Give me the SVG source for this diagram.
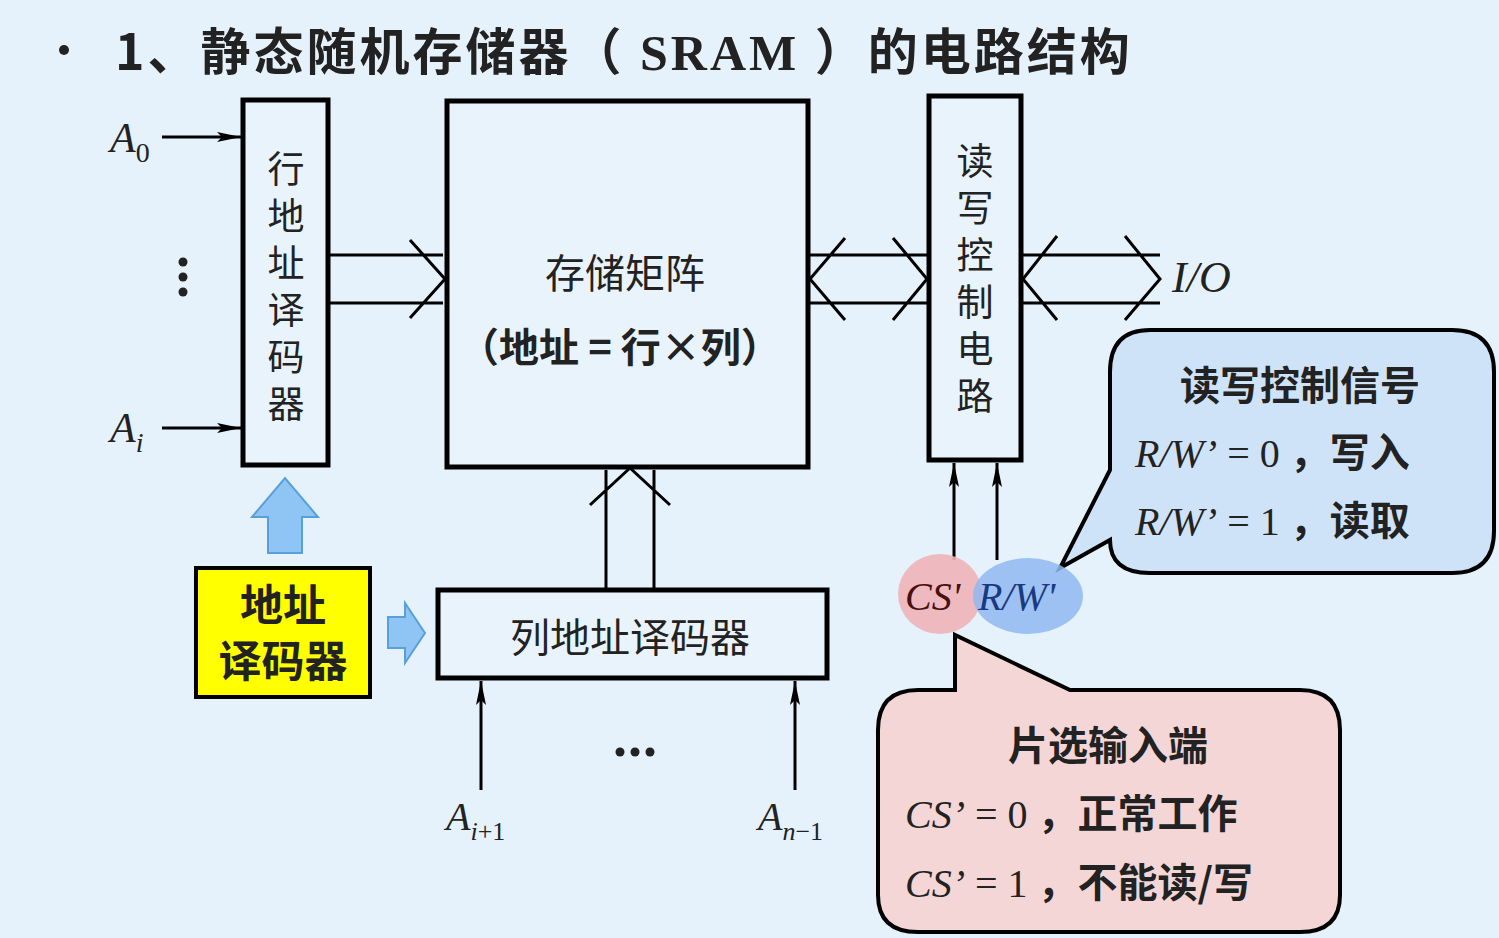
<svg xmlns="http://www.w3.org/2000/svg" width="1499" height="938" viewBox="0 0 1499 938">
<style>
.box{fill:#e8f3fb;stroke:#000;stroke-width:5}
.ln{fill:none;stroke:#000;stroke-width:3}
.cn{font-family:"Noto Sans CJK SC",sans-serif;fill:#222}
.it{font-family:"Liberation Serif",serif;font-style:italic;fill:#222}
.sr{font-family:"Liberation Serif",serif;fill:#222}
</style>
<defs><marker id="ah" viewBox="0 0 24 10" refX="24" refY="5" markerWidth="24" markerHeight="10" markerUnits="userSpaceOnUse" orient="auto"><path d="M0,0 L24,5 L0,10 L5,5 Z" fill="#000"/></marker></defs>
<rect width="1499" height="938" fill="#e6f2fb"/>
<circle cx="64" cy="50" r="5" fill="#222"/>
<text x="115" y="70" font-size="50" font-weight="bold" letter-spacing="3" class="cn">1、静态随机存储器（<tspan font-family="Liberation Serif"> SRAM </tspan>）的电路结构</text>
<g id="row-decoder"><rect class="box" x="243" y="100" width="85" height="365"/><text class="cn" font-size="37" text-anchor="middle"><tspan x="286" y="183">行</tspan><tspan x="286" y="230">地</tspan><tspan x="286" y="277">址</tspan><tspan x="286" y="324">译</tspan><tspan x="286" y="371">码</tspan><tspan x="286" y="418">器</tspan></text></g>
<g id="matrix"><rect class="box" x="447" y="101" width="361" height="366"/><text class="cn" font-size="40" x="625" y="288" text-anchor="middle">存储矩阵</text><text class="cn" font-size="40" font-weight="bold" x="620" y="362" text-anchor="middle">（地址 = 行×列）</text></g>
<g id="rw-control"><rect class="box" x="929" y="96" width="92" height="364"/><text class="cn" font-size="37" text-anchor="middle"><tspan x="975" y="175">读</tspan><tspan x="975" y="222">写</tspan><tspan x="975" y="269">控</tspan><tspan x="975" y="316">制</tspan><tspan x="975" y="363">电</tspan><tspan x="975" y="410">路</tspan></text></g>
<g id="col-decoder"><rect class="box" x="438" y="590" width="389" height="88"/><text class="cn" font-size="40" x="630" y="652" text-anchor="middle">列地址译码器</text></g>
<g id="addr-decoder"><rect x="196" y="568" width="174" height="129" fill="#ffff00" stroke="#000" stroke-width="4"/><text class="cn" font-size="43" font-weight="bold" text-anchor="middle"><tspan x="283" y="621">地址</tspan><tspan x="283" y="677">译码器</tspan></text></g>
<g id="connectors">
<path class="ln" marker-end="url(#ah)" d="M162,137 H241"/>
<path class="ln" marker-end="url(#ah)" d="M162,428 H241"/>
<path class="ln" marker-end="url(#ah)" d="M481,790 V681"/>
<path class="ln" marker-end="url(#ah)" d="M795,790 V681"/>
<path class="ln" marker-end="url(#ah)" d="M954,560 V463"/>
<path class="ln" marker-end="url(#ah)" d="M997,560 V463"/>
<path class="ln" d="M330,255 H443 M330,303 H443 M410,240 L445,279 L410,318"/>
<path class="ln" d="M810,255 H927 M810,303 H927 M845,238 L810,279 L845,320 M893,238 L927,279 L893,320"/>
<path class="ln" d="M1023,255 H1160 M1023,303 H1160 M1057,236 L1023,279 L1057,320 M1125,236 L1160,279 L1125,320"/>
<path class="ln" d="M606,588 V470 M654,588 V470 M590,505 L630,468 L670,505"/>
<path d="M268,553 V517 H252 L285,478 L318,517 H302 V553 Z" fill="#8ec5f5" stroke="#5a9fd8" stroke-width="2"/>
<path d="M388,617 H405 V603 L425,633 L405,663 V648 H388 Z" fill="#8ec5f5" stroke="#5a9fd8" stroke-width="2"/>
</g>
<text class="it" font-size="42" x="110" y="152">A<tspan font-size="28" font-style="normal" dy="10">0</tspan></text>
<text class="it" font-size="42" x="110" y="442">A<tspan font-size="28" dy="10">i</tspan></text>
<circle cx="183" cy="262" r="4.5" fill="#222"/><circle cx="183" cy="277" r="4.5" fill="#222"/><circle cx="183" cy="292" r="4.5" fill="#222"/>
<circle cx="620" cy="752" r="4.5" fill="#222"/><circle cx="635" cy="752" r="4.5" fill="#222"/><circle cx="650" cy="752" r="4.5" fill="#222"/>
<text class="it" font-size="40" x="446" y="830">A<tspan font-size="26" dy="10">i</tspan><tspan font-size="26" font-style="normal">+1</tspan></text>
<text class="it" font-size="40" x="758" y="830">A<tspan font-size="26" dy="10">n</tspan><tspan font-size="26" font-style="normal">−1</tspan></text>
<text class="it" font-size="44" x="1172" y="292">I/O</text>
<g id="rw-callout"><path d="M1150,330 H1452 Q1494,330 1494,372 V531 Q1494,573 1452,573 H1150 Q1110,573 1110,540 L1060,568 L1110,470 V372 Q1110,330 1150,330 Z" fill="#cfe3f8" stroke="#000" stroke-width="4"/>
<text class="cn" font-size="40" font-weight="bold" x="1300" y="400" text-anchor="middle">读写控制信号</text>
<text font-size="40" x="1135" y="467"><tspan class="it">R/W’</tspan><tspan class="sr"> = 0 </tspan><tspan class="cn" font-weight="bold">，写入</tspan></text>
<text font-size="40" x="1135" y="535"><tspan class="it">R/W’</tspan><tspan class="sr"> = 1 </tspan><tspan class="cn" font-weight="bold">，读取</tspan></text></g>
<g id="cs-callout"><path d="M918,690 H955 V635 L1070,690 H1300 Q1340,690 1340,730 V895 Q1340,932 1300,932 H918 Q878,932 878,895 V730 Q878,690 918,690 Z" fill="#f4d6d6" stroke="#000" stroke-width="4"/>
<text class="cn" font-size="40" font-weight="bold" x="1108" y="760" text-anchor="middle">片选输入端</text>
<text font-size="40" x="905" y="828"><tspan class="it">CS’</tspan><tspan class="sr"> = 0 </tspan><tspan class="cn" font-weight="bold">，正常工作</tspan></text>
<text font-size="40" x="905" y="897"><tspan class="it">CS’</tspan><tspan class="sr"> = 1 </tspan><tspan class="cn" font-weight="bold">，不能读/写</tspan></text></g>
<g id="signals"><ellipse cx="940" cy="594" rx="42" ry="40" fill="#eeb4b8" opacity="0.9"/><ellipse cx="1028" cy="596" rx="55" ry="38" fill="#8fb9f0" opacity="0.85"/>
<text class="it" font-size="40" x="905" y="610" style="fill:#4a1010">CS'</text>
<text class="it" font-size="40" x="978" y="610" style="fill:#1a3a80">R/W'</text></g>
</svg>
